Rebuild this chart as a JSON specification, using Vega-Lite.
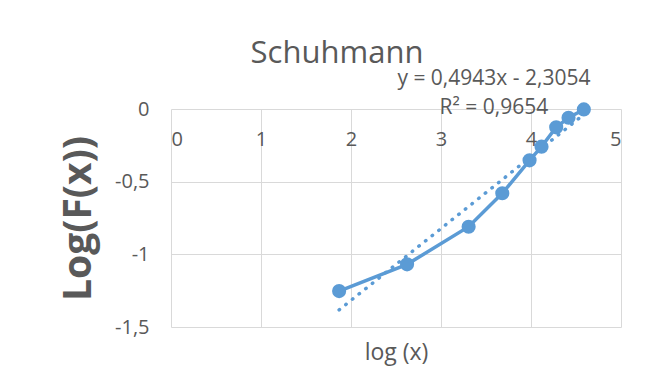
{
  "$schema": "https://vega.github.io/schema/vega-lite/v6.json",
  "autosize": {"type": "none"},
  "padding": {"left": 171, "top": 109, "right": 25, "bottom": 65},
  "width": 450,
  "height": 218,
  "background": "white",
  "config": {
    "view": {"stroke": null},
    "font": "Open Sans",
    "axis": {"gridColor": "#D9D9D9", "gridWidth": 1, "labelColor": "#595959", "titleColor": "#595959", "domain": false, "ticks": false}
  },
  "title": {
    "text": "Schuhmann",
    "font": "Open Sans",
    "fontSize": 31,
    "fontWeight": "normal",
    "color": "#595959",
    "anchor": "middle",
    "frame": "group",
    "dx": -59,
    "dy": 10,
    "offset": 8
  },
  "datasets": {
    "pts": [
      {"x": 1.868, "y": -1.253},
      {"x": 2.623, "y": -1.069},
      {"x": 3.307, "y": -0.81},
      {"x": 3.681, "y": -0.58},
      {"x": 3.984, "y": -0.353},
      {"x": 4.117, "y": -0.259},
      {"x": 4.28, "y": -0.126},
      {"x": 4.417, "y": -0.06},
      {"x": 4.587, "y": -0.003}
    ],
    "trend": [
      {"x": 1.868, "y": -1.382},
      {"x": 4.587, "y": -0.038}
    ],
    "labels": [
      {"x": 3.588, "y": 0.167, "text": "y = 0,4943x - 2,3054"},
      {"x": 3.588, "y": -0.032, "text": "R² = 0,9654"}
    ]
  },
  "encoding": {
    "x": {
      "field": "x", "type": "quantitative",
      "scale": {"domain": [0, 5], "nice": false, "zero": false},
      "axis": {
        "orient": "bottom", "offset": -218, "values": [0, 1, 2, 3, 4, 5],
        "labelFontSize": 20, "labelPadding": 20,
        "title": "log (x)", "titleFontSize": 23, "titleFontWeight": "normal",
        "titleY": 250, "titleBaseline": "alphabetic"
      }
    },
    "y": {
      "field": "y", "type": "quantitative",
      "scale": {"domain": [-1.5, 0], "nice": false, "zero": false},
      "axis": {
        "values": [0, -0.5, -1, -1.5],
        "labelExpr": "replace(toString(datum.value), '.', ',')",
        "labelFontSize": 20, "labelPadding": 22,
        "title": "Log(F(x))", "titleFontSize": 39, "titleFontWeight": "bold",
        "titlePadding": 16
      }
    }
  },
  "layer": [
    {
      "data": {"name": "trend"},
      "mark": {"type": "line", "color": "#5B9BD5", "strokeWidth": 3.5, "strokeDash": [0.5, 8], "strokeCap": "round"}
    },
    {
      "data": {"name": "pts"},
      "mark": {"type": "line", "color": "#5B9BD5", "strokeWidth": 3.5}
    },
    {
      "data": {"name": "pts"},
      "mark": {"type": "point", "filled": true, "color": "#5B9BD5", "opacity": 1, "size": 200}
    },
    {
      "data": {"name": "labels"},
      "mark": {"type": "text", "font": "Open Sans", "fontSize": 21, "color": "#595959", "align": "center", "baseline": "alphabetic"},
      "encoding": {"text": {"field": "text"}}
    }
  ]
}
